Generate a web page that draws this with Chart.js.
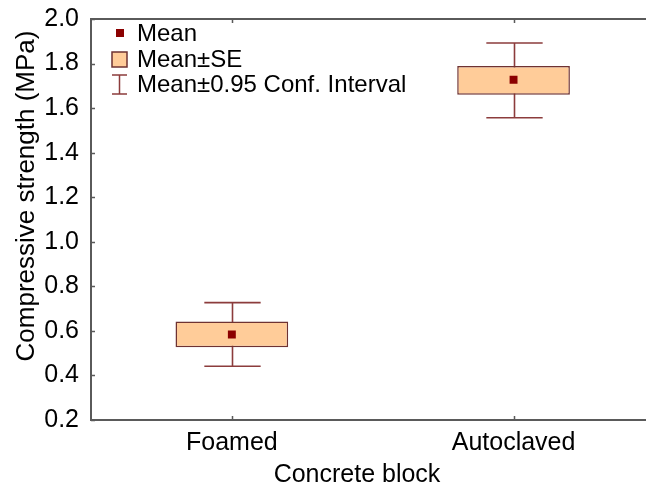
<!DOCTYPE html>
<html>
<head>
<meta charset="utf-8">
<script src="https://cdn.jsdelivr.net/npm/chart.js@4.4.0/dist/chart.umd.min.js"></script>
<style>
  html, body { margin: 0; padding: 0; background: #fff; overflow: hidden; }
  #wrap { width: 660px; height: 490px; }
</style>
</head>
<body>
<div id="wrap"><canvas id="chart"></canvas></div>
<script>
const categories = ['Foamed', 'Autoclaved'];
const means = [0.584, 1.727];
const seLow = [0.527, 1.660];
const seHigh = [0.642, 1.789];
const ciLow = [0.441, 1.557];
const ciHigh = [0.727, 1.892];
const yTicks = [0.2, 0.4, 0.6, 0.8, 1.0, 1.2, 1.4, 1.6, 1.8, 2.0];

const FONT = '"Liberation Sans", Arial, sans-serif';
const boxFill = '#FFCC99';
const boxLine = '#6E3232';
const ciLine = '#8C3C3C';
const meanColor = '#8B0000';
const axisColor = '#5a5a5a';

const boxPlot = {
    id: 'boxPlot',
    beforeDatasetsDraw(chart) {
        const ctx = chart.ctx
        const y = chart.scales.y
        const meta = chart.getDatasetMeta(1)
        ctx.save()
        ctx.strokeStyle = ciLine
        ctx.lineWidth = 1.6
        meta.data.forEach((bar, i) => {
            const cx = Math.round(bar.x) + 0.5
            const half = bar.width / 4
            const top = y.getPixelForValue(ciHigh[i])
            const bot = y.getPixelForValue(ciLow[i])
            ctx.beginPath()
            ctx.moveTo(cx, top); ctx.lineTo(cx, bot)
            ctx.moveTo(cx - half, top); ctx.lineTo(cx + half, top)
            ctx.moveTo(cx - half, bot); ctx.lineTo(cx + half, bot)
            ctx.stroke()
        })
        ctx.restore()
    },
    afterDraw(chart) {
        const ctx = chart.ctx
        const area = chart.chartArea
        const x = chart.scales.x
        const y = chart.scales.y
        ctx.save()
        // top frame line
        ctx.strokeStyle = axisColor
        ctx.lineWidth = 2
        ctx.beginPath()
        ctx.moveTo(area.left, area.top); ctx.lineTo(area.right, area.top)
        ctx.stroke()
        // inward ticks
        ctx.lineWidth = 1.5
        ctx.beginPath()
        yTicks.forEach(v => {
            const py = Math.round(y.getPixelForValue(v)) + 0.5
            ctx.moveTo(area.left, py); ctx.lineTo(area.left + 4, py)
        })
        categories.forEach((c, i) => {
            const px = Math.round(x.getPixelForValue(i)) + 0.5
            ctx.moveTo(px, area.bottom); ctx.lineTo(px, area.bottom - 4)
            ctx.moveTo(px, area.top); ctx.lineTo(px, area.top + 4)
        })
        ctx.stroke()

        // axis titles
        ctx.fillStyle = '#000'
        ctx.textAlign = 'center'
        ctx.textBaseline = 'middle'
        ctx.font = '25px ' + FONT
        ctx.fillText('Concrete block', 357, 475)
        ctx.save()
        ctx.translate(27, 196)
        ctx.rotate(-Math.PI / 2)
        ctx.font = '26px ' + FONT
        ctx.fillText('Compressive strength (MPa)', 0, 0)
        ctx.restore()

        // legend
        ctx.font = '24px ' + FONT
        ctx.textAlign = 'left'
        ctx.fillStyle = meanColor
        ctx.fillRect(116, 29, 8, 8)
        ctx.fillStyle = boxFill
        ctx.fillRect(112, 52, 15, 15)
        ctx.strokeStyle = boxLine
        ctx.lineWidth = 1.5
        ctx.strokeRect(112, 52, 15, 15)
        ctx.strokeStyle = ciLine
        ctx.beginPath()
        ctx.moveTo(119.5, 75); ctx.lineTo(119.5, 94)
        ctx.moveTo(112, 75); ctx.lineTo(127, 75)
        ctx.moveTo(112, 94); ctx.lineTo(127, 94)
        ctx.stroke()
        ctx.fillStyle = '#000'
        ctx.fillText('Mean', 137, 34)
        ctx.fillText('Mean\u00b1SE', 137, 60)
        ctx.fillText('Mean\u00b10.95 Conf. Interval', 137, 85)
        ctx.restore()
    }
};

new Chart(document.getElementById('chart').getContext('2d'), {
    type: 'bar',
    data: {
        labels: categories,
        datasets: [
            {
                type: 'line',
                label: 'Mean',
                data: means,
                showLine: false,
                pointStyle: 'rect',
                pointRadius: 5.6,
                pointBackgroundColor: meanColor,
                pointBorderColor: meanColor,
                pointBorderWidth: 0,
                order: 0
            },
            {
                label: 'Mean\u00b1SE',
                data: seLow.map((v, i) => [v, seHigh[i]]),
                backgroundColor: boxFill,
                borderColor: boxLine,
                borderWidth: 1.5,
                borderSkipped: false,
                categoryPercentage: 1,
                barPercentage: 0.4,
                order: 1
            }
        ]
    },
    options: {
        responsive: true,
        maintainAspectRatio: false,
        animation: false,
        layout: { padding: { top: 17, right: 1, left: 0, bottom: 0 } },
        plugins: {
            legend: { display: false },
            tooltip: { enabled: false }
        },
        scales: {
            x: {
                grid: { display: false },
                border: { display: true, color: axisColor, width: 2 },
                ticks: { color: '#000', font: { family: FONT, size: 25 }, padding: 0 },
                afterFit: s => { s.height = 70 }
            },
            y: {
                min: 0.2,
                max: 2.0,
                grid: { display: false },
                border: { display: true, color: axisColor, width: 2 },
                afterBuildTicks: s => { s.ticks = yTicks.map(v => ({ value: v })) },
                ticks: {
                    color: '#000',
                    font: { family: FONT, size: 25 },
                    padding: 4,
                    callback: v => v.toFixed(1)
                },
                afterFit: s => { s.width = 91 }
            }
        }
    },
    plugins: [boxPlot]
});
</script>
</body>
</html>
